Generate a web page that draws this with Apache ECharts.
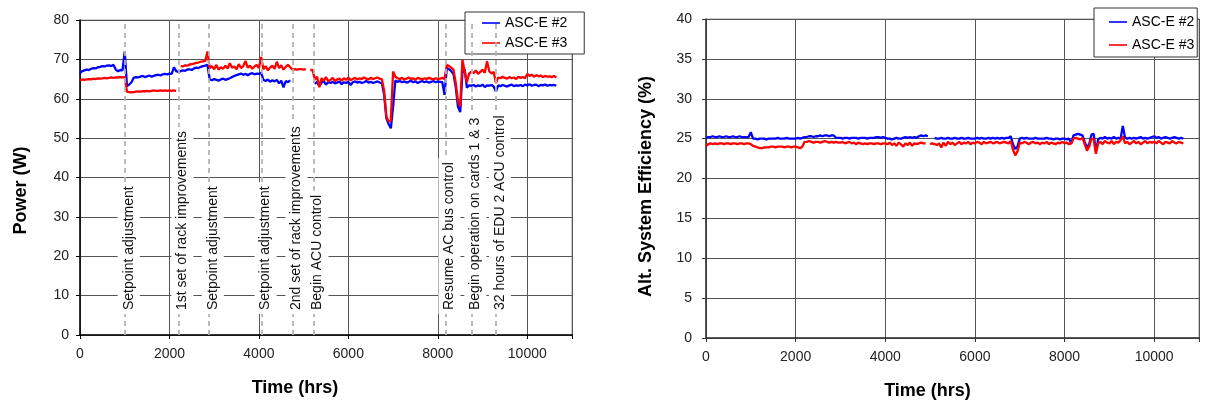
<!DOCTYPE html>
<html>
<head>
<meta charset="utf-8">
<script src="https://cdn.jsdelivr.net/npm/echarts@6/dist/echarts.min.js"></script>
<style>
  html, body { margin: 0; padding: 0; background: #fff; }
  #chart { width: 1209px; height: 405px; }
</style>
</head>
<body>
<div id="chart"></div>
<script>
// Sampling step of the series below (hours)
const HOUR_STEP = 50;

// Power (W) – ASC-E #2 (blue)
const powerASC2 = [
  66.5, 67.0, 67.2, 67.4, 67.3, 67.6, 67.8, 67.7, 68.0, 68.1,   // 0
  68.3, 68.2, 68.4, 68.5, 68.3, 68.6, 67.4, 67.0, 67.3, 67.2,   // 500
  72.0, 63.2, 63.6, 64.2, 65.3, 65.5, 65.4, 65.6, 65.8, 65.5,   // 1000
  65.7, 65.9, 65.6, 65.8, 66.0, 66.1, 65.9, 66.2, 66.3, 66.2,   // 1500
  66.4, 66.3, 68.0, 67.0, 66.8, 67.0, 67.2, 67.1, 67.4, 67.5,   // 2000
  67.3, 67.7, 67.9, 67.8, 68.1, 68.3, 68.4, 68.6, 64.9, 64.7,   // 2500
  65.0, 64.8, 64.6, 64.9, 65.1, 64.8, 65.0, 65.2, 65.5, 65.8,   // 3000
  66.0, 66.2, 66.4, 66.1, 66.3, 66.0, 66.3, 66.5, 66.2, 66.4,   // 3500
  66.3, 66.6, 64.8, 64.5, 64.9, 64.3, 64.7, 64.4, 64.8, 63.9,   // 4000
  64.6, 62.9, 64.5, 64.2, 64.7, null, null, null, null, null,   // 4500
  null, null, null, null, null, 63.8, 64.3, 63.2, 64.1, 64.5,   // 5000
  63.6, 64.2, 64.0, 64.3, 63.9, 64.1, 64.4, 63.7, 64.2, 64.0,   // 5500
  64.3, 63.5, 64.2, 64.4, 64.1, 64.3, 64.0, 64.2, 64.5, 64.1,   // 6000
  64.3, 64.0, 64.2, 64.4, 64.1, 64.0, 61.0, 55.0, 53.6, 52.5,   // 6500
  58.0, 64.6, 64.3, 64.5, 64.2, 64.4, 64.1, 64.3, 64.6, 64.2,   // 7000
  64.4, 64.0, 64.3, 64.5, 64.2, 64.4, 64.1, 64.3, 64.5, 64.2,   // 7500
  64.4, 64.3, 64.2, 61.0, 67.8, 67.5, 67.0, 66.3, 63.0, 58.0,   // 8000
  56.6, 66.5, 67.5, 62.8, 63.4, 63.3, 63.5, 63.1, 63.4, 63.2,   // 8500
  63.6, 63.0, 63.4, 63.3, 63.5, 63.1, 61.8, 63.4, 63.2, 63.5,   // 9000
  63.3, 63.1, 63.4, 63.6, 63.2, 63.4, 63.3, 63.5, 63.2, 63.6,   // 9500
  63.4, 63.7, 63.3, 63.5, 63.6, 63.2, 63.5, 63.4, 63.6, 63.3,   // 10000
  63.5, 63.4, 63.5, 63.3                                        // 10500
];

// Power (W) – ASC-E #3 (red)
const powerASC3 = [
  64.6, 64.9, 64.8, 64.9, 65.0, 64.9, 65.1, 65.0, 65.2, 65.1,   // 0
  65.2, 65.3, 65.2, 65.3, 65.4, 65.3, 65.4, 65.4, 65.5, 65.4,   // 500
  65.5, 61.8, 61.7, 61.6, 61.7, 61.8, 61.9, 61.8, 61.9, 61.9,   // 1000
  62.0, 61.9, 62.0, 62.1, 62.0, 62.0, 62.1, 62.0, 62.1, 62.0,   // 1500
  62.1, 62.0, 62.1, 62.0, null, 68.3, 68.2, 68.5, 68.4, 68.7,   // 2000
  68.8, 68.9, 69.1, 69.2, 69.4, 69.5, 69.6, 72.0, 67.8, 68.3,   // 2500
  67.5, 68.6, 67.4, 68.0, 67.6, 68.4, 67.7, 69.0, 67.9, 68.2,   // 3000
  67.5, 68.8, 67.8, 68.3, 69.6, 67.9, 68.4, 67.6, 68.2, 68.6,   // 3500
  67.8, 70.6, 67.5, 68.3, 67.2, 67.9, 68.4, 67.6, 69.4, 67.8,   // 4000
  68.5, 67.4, 68.1, 68.6, 68.0, 67.4, 67.5, 67.4, 67.5, 67.5,   // 4500
  67.4, 67.5, null, 67.3, 67.3, 64.9, 65.6, 62.9, 65.2, 64.6,   // 5000
  65.5, 64.4, 64.8, 65.3, 64.5, 64.9, 65.1, 64.6, 65.2, 64.8,   // 5500
  65.4, 64.7, 65.0, 65.3, 64.9, 65.2, 65.0, 65.4, 65.1, 64.9,   // 6000
  65.3, 65.0, 65.2, 65.4, 65.1, 64.9, 62.0, 55.5, 54.2, 54.5,   // 6500
  66.9, 65.6, 65.2, 65.0, 65.3, 64.9, 65.1, 65.4, 65.0, 65.2,   // 7000
  64.8, 65.3, 65.1, 64.9, 65.2, 65.0, 65.3, 65.1, 64.9, 65.2,   // 7500
  65.0, 65.1, 65.3, 65.0, 68.6, 68.3, 67.9, 67.4, 64.0, 59.5,   // 8000
  58.0, 69.9, 67.0, 64.2, 66.4, 66.9, 66.5, 67.2, 66.3, 66.8,   // 8500
  67.4, 66.6, 69.5, 67.0, 66.4, 66.8, 64.0, 65.4, 65.2, 65.6,   // 9000
  65.3, 65.1, 65.5, 65.2, 65.4, 65.0, 65.6, 65.3, 65.5, 65.2,   // 9500
  66.3, 65.8, 66.1, 65.6, 66.0, 65.7, 65.9, 65.5, 65.8, 65.6,   // 10000
  65.7, 65.5, 65.8, 65.4                                        // 10500
];

// Alt. system efficiency (%) – ASC-E #2 (blue)
const effASC2 = [
  25.1, 25.2, 25.2, 25.3, 25.2, 25.2, 25.3, 25.2, 25.2, 25.3,   // 0
  25.2, 25.2, 25.3, 25.2, 25.2, 25.3, 25.2, 25.2, 25.2, 25.2,   // 500
  25.8, 25.0, 25.0, 24.9, 25.0, 25.0, 25.0, 24.9, 25.0, 25.0,   // 1000
  25.0, 25.0, 25.1, 25.0, 25.0, 25.0, 25.1, 25.0, 25.0, 25.0,   // 1500
  25.0, 25.1, 25.0, 25.1, 25.2, 25.2, 25.3, 25.3, 25.2, 25.3,   // 2000
  25.3, 25.4, 25.3, 25.4, 25.4, 25.3, 25.4, 25.4, 25.1, 25.1,   // 2500
  25.1, 25.0, 25.1, 25.1, 25.0, 25.1, 25.1, 25.1, 25.0, 25.1,   // 3000
  25.1, 25.1, 25.0, 25.1, 25.1, 25.1, 25.2, 25.2, 25.1, 25.2,   // 3500
  25.1, 25.0, 25.0, 24.9, 25.0, 25.1, 25.0, 25.0, 25.1, 25.2,   // 4000
  25.1, 25.2, 25.1, 25.2, 25.1, 25.3, 25.4, 25.3, 25.4, 25.3,   // 4500
  null, null, 25.1, 25.0, 25.0, 25.1, 25.0, 25.0, 25.1, 25.0,   // 5000
  25.0, 25.1, 25.0, 25.0, 25.1, 25.0, 25.0, 25.1, 25.0, 25.0,   // 5500
  25.0, 25.1, 25.0, 25.1, 25.0, 25.0, 25.1, 25.0, 25.1, 25.0,   // 6000
  25.1, 25.0, 25.1, 25.0, 25.1, 25.1, 25.3, 24.3, 23.7, 24.0,   // 6500
  25.0, 25.1, 25.0, 25.1, 25.0, 25.0, 25.0, 25.1, 25.0, 25.0,   // 7000
  25.0, 25.0, 25.1, 25.0, 25.0, 24.9, 25.0, 25.0, 24.9, 25.0,   // 7500
  25.0, 24.9, 25.0, 24.4, 25.4, 25.5, 25.6, 25.5, 25.4, 24.6,   // 8000
  23.9, 24.3, 25.5, 25.6, 23.4, 24.9, 25.1, 25.0, 25.2, 25.0,   // 8500
  25.1, 25.0, 25.2, 25.0, 25.1, 25.0, 26.6, 25.1, 25.0, 25.1,   // 9000
  25.0, 25.1, 25.0, 25.1, 25.2, 25.0, 25.1, 25.0, 25.1, 25.2,   // 9500
  25.3, 25.1, 25.2, 25.0, 25.1, 25.2, 25.1, 25.0, 25.1, 25.2,   // 10000
  25.1, 25.0, 25.1, 25.0                                        // 10500
];

// Alt. system efficiency (%) – ASC-E #3 (red)
const effASC3 = [
  24.1, 24.3, 24.4, 24.3, 24.4, 24.3, 24.4, 24.4, 24.3, 24.4,   // 0
  24.4, 24.3, 24.4, 24.4, 24.3, 24.4, 24.4, 24.3, 24.4, 24.4,   // 500
  24.3, 24.1, 24.0, 23.9, 23.8, 23.8, 23.9, 23.9, 23.9, 24.0,   // 1000
  24.0, 23.9, 24.0, 24.0, 24.0, 23.9, 24.0, 24.0, 23.9, 24.0,   // 1500
  24.0, 23.9, 23.8, 24.0, 24.6, 24.6, 24.7, 24.6, 24.5, 24.6,   // 2000
  24.6, 24.5, 24.6, 24.7, 24.6, 24.5, 24.6, 24.5, 24.6, 24.5,   // 2500
  24.5, 24.6, 24.4, 24.5, 24.6, 24.4, 24.5, 24.3, 24.5, 24.4,   // 3000
  24.3, 24.4, 24.3, 24.4, 24.4, 24.3, 24.4, 24.4, 24.3, 24.4,   // 3500
  24.4, 24.3, 24.5, 24.2, 24.4, 24.1, 24.5, 24.3, 24.0, 24.4,   // 4000
  24.2, 24.5, 24.1, 24.4, 24.3, 24.4, 24.5, 24.4, 24.4, null,   // 4500
  24.3, 24.4, 24.3, 24.2, 24.4, 23.9, 24.5, 24.1, 24.6, 24.3,   // 5000
  24.5, 24.2, 24.4, 24.6, 24.3, 24.5, 24.4, 24.6, 24.3, 24.5,   // 5500
  24.4, 24.6, 24.5, 24.3, 24.6, 24.4, 24.5, 24.6, 24.4, 24.5,   // 6000
  24.6, 24.4, 24.5, 24.6, 24.5, 24.4, 24.7, 23.6, 22.9, 23.4,   // 6500
  24.5, 24.4, 24.6, 24.5, 24.3, 24.5, 24.6, 24.4, 24.5, 24.3,   // 7000
  24.5, 24.4, 24.6, 24.3, 24.5, 24.4, 24.3, 24.5, 24.4, 24.6,   // 7500
  24.4, 24.5, 24.3, 24.4, 25.0, 25.1, 25.0, 24.9, 25.1, 24.3,   // 8000
  23.5, 24.0, 25.0, 24.9, 23.1, 24.4, 24.6, 24.3, 24.7, 24.5,   // 8500
  24.4, 24.7, 24.3, 24.6, 24.5, 24.8, 25.3, 24.4, 24.6, 24.3,   // 9000
  24.5, 24.7, 24.4, 24.6, 24.3, 24.5, 24.7, 24.4, 24.6, 24.5,   // 9500
  24.6, 24.4, 24.7, 24.5, 24.3, 24.6, 24.5, 24.4, 24.7, 24.5,   // 10000
  24.4, 24.6, 24.5, 24.4                                        // 10500
];

// Event annotations on the power chart
const eventHours = [1000, 2200, 2880, 4060, 4750, 5220, 8170, 8750, 9300];
const eventLabels = [
  'Setpoint adjustment',
  '1st set of rack improvements',
  'Setpoint adjustment',
  'Setpoint adjustment',
  '2nd set of rack improvements',
  'Begin ACU control',
  'Resume AC bus control',
  'Begin operation on cards 1 & 3',
  '32 hours of EDU 2 ACU control'
];

const seriesNames = ['ASC-E #2', 'ASC-E #3'];
const seriesColors = ['#0000ff', '#ff0000'];

const FONT = "'Liberation Sans', Arial, Helvetica, sans-serif";
const toXY = arr => arr.map((v, i) => [i * HOUR_STEP, v]);

function xAxisCfg(gridIndex, nameShift, lineColor) {
  return {
    type: 'value', gridIndex, min: 0, max: 11000, interval: 2000,
    name: 'Time (hrs)', nameLocation: 'middle', nameGap: 44,
    nameTextStyle: { fontFamily: FONT, fontSize: 18, fontWeight: 'bold', color: '#000', padding: [0, nameShift, 0, 0] },
    axisLine: { show: true, onZero: false, lineStyle: { color: lineColor, width: 1.5 } },
    axisTick: { show: true, inside: false, length: 4, lineStyle: { color: lineColor } },
    axisLabel: { fontFamily: FONT, fontSize: 14, color: '#222', margin: 12,
      formatter: v => (v > 10000 ? '' : String(v)) },
    splitLine: { show: true, lineStyle: { color: '#555', width: 1 } }
  };
}
function yAxisCfg(gridIndex, name, max, interval, nameGap, nameShift, lineColor, labelMargin) {
  return {
    type: 'value', gridIndex, min: 0, max, interval,
    name, nameLocation: 'middle', nameGap,
    nameTextStyle: { fontFamily: FONT, fontSize: 18, fontWeight: 'bold', color: '#000', padding: [0, nameShift, 0, 0] },
    axisLine: { show: true, lineStyle: { color: lineColor, width: 1.5 } },
    axisTick: { show: true, inside: false, length: 4, lineStyle: { color: lineColor } },
    axisLabel: { fontFamily: FONT, fontSize: 14, color: '#222', margin: labelMargin },
    splitLine: { show: true, lineStyle: { color: '#555', width: 1 } }
  };
}
function legendCfg(left, top, padding, itemGap) {
  return {
    data: seriesNames, left, top, orient: 'vertical',
    icon: 'rect', itemWidth: 18, itemHeight: 1.6, itemGap, padding,
    backgroundColor: '#fff', borderColor: '#333', borderWidth: 1, borderRadius: 0,
    textStyle: { fontFamily: FONT, fontSize: 14, color: '#000', lineHeight: 14 },
    selectedMode: false
  };
}
function lineSeries(idx, axisIndex, values, extra) {
  return Object.assign({
    name: seriesNames[idx], type: 'line',
    xAxisIndex: axisIndex, yAxisIndex: axisIndex,
    data: toXY(values), symbol: 'none', showSymbol: false,
    connectNulls: false,
    lineStyle: { color: seriesColors[idx], width: 2.3 },
    itemStyle: { color: seriesColors[idx] },
    animation: false
  }, extra || {});
}

const chart = echarts.init(document.getElementById('chart'), null, { renderer: 'canvas' });
chart.setOption({
  backgroundColor: '#fff',
  animation: false,
  grid: [
    { left: 80, top: 20, width: 492, height: 315, show: true, borderColor: '#999', borderWidth: 1, backgroundColor: 'transparent' },
    { left: 706, top: 19, width: 493, height: 322, show: true, borderColor: '#999', borderWidth: 1, backgroundColor: 'transparent' }
  ],
  legend: [
    legendCfg(465, 12, [4, 17, 4, 17], 6),
    legendCfg(1094, 8, [7, 3, 5, 15], 9)
  ],
  xAxis: [xAxisCfg(0, 62, '#000'), xAxisCfg(1, 50, '#333')],
  yAxis: [
    yAxisCfg(0, 'Power (W)', 80, 10, 50, 26, '#000', 11),
    yAxisCfg(1, 'Alt. System Efficiency (%)', 40, 5, 51, 16, '#333', 14)
  ],
  series: [
    lineSeries(0, 0, powerASC2),
    lineSeries(1, 0, powerASC3, {
      markLine: {
        silent: true, symbol: ['none', 'none'], animation: false,
        lineStyle: { type: [5, 4], color: '#b4b4b4', width: 1.8 },
        label: {
          show: true, position: 'insideStartBottom', formatter: '{b}',
          distance: [21, -7],
          fontFamily: FONT, fontSize: 14, color: '#111',
          backgroundColor: '#fff', padding: [4, 4]
        },
        emphasis: { disabled: true },
        data: eventHours.map((h, i) => ({ xAxis: h, name: eventLabels[i] }))
      }
    }),
    lineSeries(0, 1, effASC2),
    lineSeries(1, 1, effASC3)
  ]
});
</script>
</body>
</html>
